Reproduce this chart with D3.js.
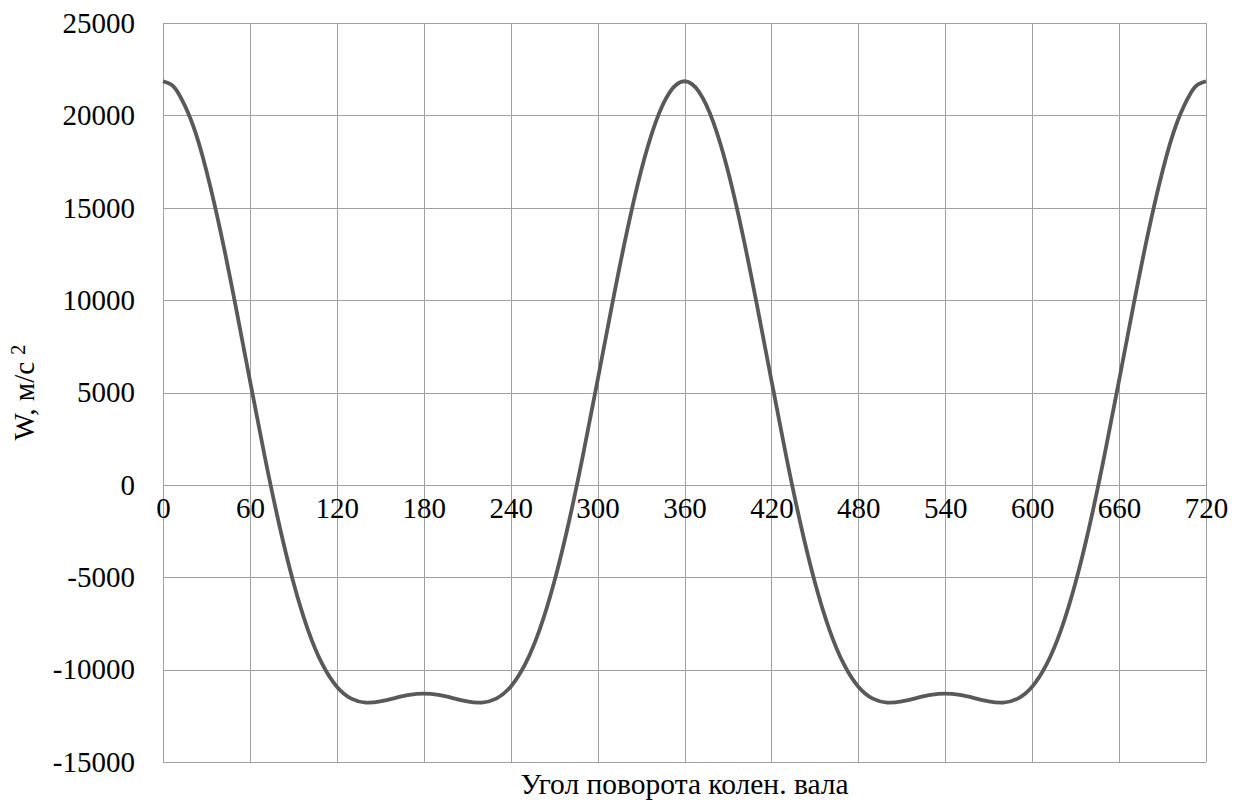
<!DOCTYPE html>
<html>
<head>
<meta charset="utf-8">
<script src="https://cdn.jsdelivr.net/npm/d3@7"></script>
<style>
  body { margin: 0; background: #fff; }
  text { font-family: "Liberation Serif", "Times New Roman", serif; fill: #000; }
</style>
</head>
<body>
<div id="wrapper"></div>
<script>
// angle of crankshaft, degrees
const angles = [
  0, 5, 10, 20, 30, 40, 50, 60, 70, 80, 90, 100, 110, 120, 130, 140, 150, 160, 170, 180,
  190, 200, 210, 220, 230, 240, 250, 260, 270, 280, 290, 300, 310, 320, 330, 340, 350, 360,
  370, 380, 390, 400, 410, 420, 430, 440, 450, 460, 470, 480, 490, 500, 510, 520, 530, 540,
  550, 560, 570, 580, 590, 600, 610, 620, 630, 640, 650, 660, 670, 680, 690, 700, 710, 715, 720
]
// piston acceleration W, m/s^2
const accel = [
  21846, 21703, 21276, 19613, 16989, 13612, 9739, 5652, 1631, -2075, -5271, -7830, -9706, -10923, -11569, -11782, -11719, -11538, -11370, -11304,
  -11370, -11538, -11719, -11782, -11569, -10923, -9706, -7830, -5271, -2075, 1631, 5652, 9739, 13612, 16989, 19613, 21276, 21846,
  21276, 19613, 16989, 13612, 9739, 5652, 1631, -2075, -5271, -7830, -9706, -10923, -11569, -11782, -11719, -11538, -11370, -11304,
  -11370, -11538, -11719, -11782, -11569, -10923, -9706, -7830, -5271, -2075, 1631, 5652, 9739, 13612, 16989, 19613, 21276, 21703, 21846
]
const xTicks = [0, 60, 120, 180, 240, 300, 360, 420, 480, 540, 600, 660, 720]
const yTicks = [-15000, -10000, -5000, 0, 5000, 10000, 15000, 20000, 25000]

const data = angles.map((a, i) => ({ angle: a, w: accel[i] }))

const dimensions = {
  width: 1246,
  height: 802,
  margin: { top: 23, right: 40, bottom: 40, left: 163 },
}
dimensions.boundedWidth = dimensions.width - dimensions.margin.left - dimensions.margin.right
dimensions.boundedHeight = dimensions.height - dimensions.margin.top - dimensions.margin.bottom

const svg = d3.select("#wrapper")
  .append("svg")
    .attr("width", dimensions.width)
    .attr("height", dimensions.height)

const bounds = svg.append("g")
  .attr("transform", `translate(${dimensions.margin.left},${dimensions.margin.top})`)

const xScale = d3.scaleLinear()
  .domain([0, 720])
  .range([0, dimensions.boundedWidth])

const yScale = d3.scaleLinear()
  .domain([-15000, 25000])
  .range([dimensions.boundedHeight, 0])

// grid
bounds.selectAll(".hgrid")
  .data(yTicks)
  .join("line")
    .attr("class", "hgrid")
    .attr("x1", 0)
    .attr("x2", dimensions.boundedWidth)
    .attr("y1", d => Math.round(yScale(d)) + 0.5)
    .attr("y2", d => Math.round(yScale(d)) + 0.5)
    .attr("stroke", "#a0a0a0")
    .attr("stroke-width", 1)

bounds.selectAll(".vgrid")
  .data(xTicks)
  .join("line")
    .attr("class", "vgrid")
    .attr("x1", d => Math.round(xScale(d)) + 0.5)
    .attr("x2", d => Math.round(xScale(d)) + 0.5)
    .attr("y1", 0)
    .attr("y2", dimensions.boundedHeight)
    .attr("stroke", "#a0a0a0")
    .attr("stroke-width", 1)

// y tick labels (plain hyphen for negatives, like the original)
const yAxis = bounds.append("g")
  .call(d3.axisLeft(yScale).tickValues(yTicks).tickSize(0).tickPadding(28).tickFormat(d => String(d)))
yAxis.select(".domain").remove()
yAxis.selectAll("text")
  .style("font-family", "'Liberation Serif', 'Times New Roman', serif")
  .style("font-size", "29px")
  .attr("fill", "#000")

// x tick labels sit along the zero line
const xAxis = bounds.append("g")
  .attr("transform", `translate(0,${yScale(0)})`)
  .call(d3.axisBottom(xScale).tickValues(xTicks).tickSize(0).tickPadding(13).tickFormat(d => String(d)))
xAxis.select(".domain").remove()
xAxis.selectAll("text")
  .style("font-family", "'Liberation Serif', 'Times New Roman', serif")
  .style("font-size", "29px")
  .attr("fill", "#000")

// curve
const lineGenerator = d3.line()
  .x(d => xScale(d.angle))
  .y(d => yScale(d.w))
  .curve(d3.curveNatural)

bounds.append("path")
  .datum(data)
  .attr("d", lineGenerator)
  .attr("fill", "none")
  .attr("stroke", "#595959")
  .attr("stroke-width", 3.8)
  .attr("stroke-linejoin", "round")

// axis titles
svg.append("text")
  .attr("x", dimensions.margin.left + dimensions.boundedWidth / 2)
  .attr("y", 794)
  .attr("text-anchor", "middle")
  .style("font-size", "29.5px")
  .text("Угол поворота колен. вала")

const yTitle = svg.append("text")
  .attr("transform", `translate(34,${dimensions.margin.top + dimensions.boundedHeight / 2}) rotate(-90)`)
  .attr("text-anchor", "middle")
  .style("font-size", "29px")
yTitle.append("tspan").text("W, м/с ")
yTitle.append("tspan")
  .attr("dy", "-0.45em")
  .style("font-size", "20px")
  .text("2")
</script>
</body>
</html>
